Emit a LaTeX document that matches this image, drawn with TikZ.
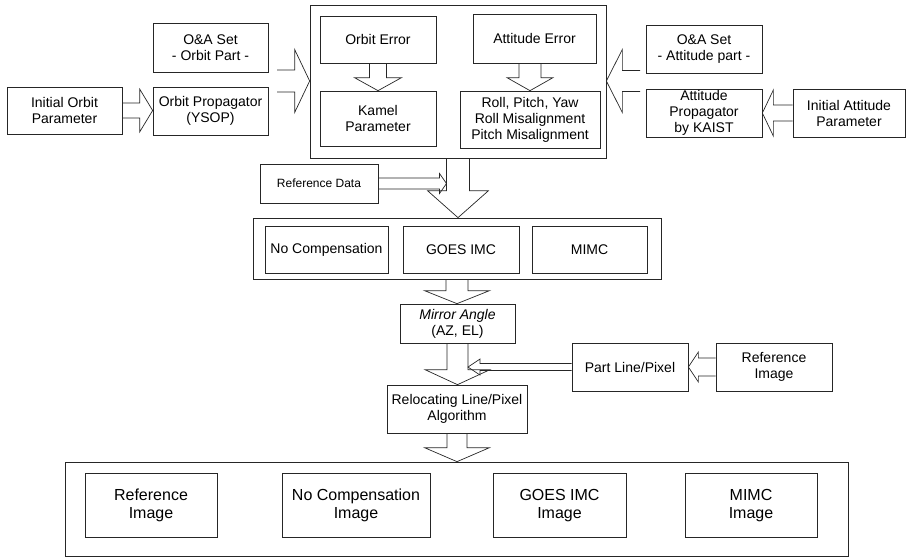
\documentclass[tikz,border=0pt]{standalone}
\usepackage{fontspec}
\setmainfont{Liberation Sans}
\usetikzlibrary{calc}

\tikzset{
  box/.style={draw=black!85, line width=0.7pt, align=center, inner sep=1pt,
              font=\fontsize{14}{16}\selectfont},
  frame/.style={draw=black!85, line width=0.7pt},
  barrow/.style={draw=black!85, line width=0.7pt, line join=miter}
}

% hollow block arrows: #1 start, #2 tip, #3 shaft half width, #4 head half width, #5 head length
\newcommand{\blockdown}[5]{%
  \draw[barrow] let \p1=(#1), \p2=(#2) in
    (\x1-#3pt,\y1) -- (\x1-#3pt,\y2+#5pt) -- (\x1-#4pt,\y2+#5pt) -- (\x1,\y2)
    -- (\x1+#4pt,\y2+#5pt) -- (\x1+#3pt,\y2+#5pt) -- (\x1+#3pt,\y1);}
\newcommand{\blockright}[5]{%
  \draw[barrow] let \p1=(#1), \p2=(#2) in
    (\x1,\y1+#3pt) -- (\x2-#5pt,\y1+#3pt) -- (\x2-#5pt,\y1+#4pt) -- (\x2,\y1)
    -- (\x2-#5pt,\y1-#4pt) -- (\x2-#5pt,\y1-#3pt) -- (\x1,\y1-#3pt);}
\newcommand{\blockleft}[5]{%
  \draw[barrow] let \p1=(#1), \p2=(#2) in
    (\x1,\y1+#3pt) -- (\x2+#5pt,\y1+#3pt) -- (\x2+#5pt,\y1+#4pt) -- (\x2,\y1)
    -- (\x2+#5pt,\y1-#4pt) -- (\x2+#5pt,\y1-#3pt) -- (\x1,\y1-#3pt);}

\begin{document}
\begin{tikzpicture}[x=1pt, y=-1pt]
  \useasboundingbox (0,0) rectangle (906,558);

  % group frames
  \node[frame, minimum width=296pt, minimum height=153pt] (topbox) at (458,81.5) {};
  \node[frame, minimum width=408pt, minimum height=61pt] (modebox) at (457,248.5) {};
  \node[frame, minimum width=783pt, minimum height=94pt] (outbox) at (456.5,509) {};

  % blocks
  \foreach \id/\cx/\cy/\bw/\bh/\txt in {
      oaorbit/210.5/47.5/115/49/{O\&A Set\\- Orbit Part -},
      orbinit/64.5/110.5/115/47/{Initial Orbit\\Parameter},
      orbprop/210.5/111/115/48/{Orbit Propagator\\(YSOP)},
      orberr/378/39.5/116/47/{Orbit Error},
      kamel/378/118.5/116/55/{Kamel\\Parameter},
      atterr/534.5/38.5/123/49/{Attitude Error},
      rpy/530/119.5/140/57/{Roll, Pitch, Yaw\\Roll Misalignment\\Pitch Misalignment},
      oaatt/704/49/116/48/{O\&A Set\\- Attitude part -},
      attprop/704/113/116/48/{Attitude\\Propagator\\by KAIST},
      attinit/849/113/112/48/{Initial Attitude\\Parameter},
      nocomp/326.5/249.5/123/47/{No Compensation},
      goes/461/249.5/116/47/{GOES IMC},
      mimc/589.5/249.5/115/47/{MIMC},
      mirror/457.5/323.5/115/39/{{\itshape Mirror Angle}\\(AZ, EL)},
      partline/630/367/116/48/{Part Line/Pixel},
      refimg/774/367/116/48/{Reference\\Image},
      reloc/457/409/140/48/{Relocating Line/Pixel\\Algorithm}%
  }{
    \node[box, minimum width=\bw pt, minimum height=\bh pt] (\id) at (\cx,\cy) {\txt};
  }
  \node[box, font=\fontsize{12}{14}\selectfont, minimum width=118pt,
        minimum height=39pt] (refdata) at (319,183.5) {Reference Data};

  % output images
  \foreach \id/\cx/\bw/\txt in {
      refout/151/132/{Reference\\Image},
      nocompout/356/148/{No Compensation\\Image},
      goesout/559.5/133/{GOES IMC\\Image},
      mimcout/751/132/{MIMC\\Image}%
  }{
    \node[box, font=\fontsize{16}{18}\selectfont, minimum width=\bw pt,
          minimum height=64pt] (\id) at (\cx,505.5) {\txt};
  }

  % arrows
  \coordinate (orbjoin) at (277,81);
  \coordinate (attjoin) at (640,81);
  \coordinate (refjoin) at (446.5,183.5);
  \coordinate (partjoin) at (468,366);
  \blockright{orbinit.east}{orbprop.west}{7.5}{21.5}{13}
  \blockleft{attinit.west}{attprop.east}{8}{23}{11}
  \blockright{orbjoin}{topbox.west}{11}{31.5}{15}
  \blockleft{attjoin}{topbox.east}{10.5}{31.5}{16}
  \blockdown{orberr.south}{kamel.north}{8.5}{23.5}{13}
  \blockdown{rpy.north |- atterr.south}{rpy.north}{11}{23}{13}
  \blockdown{topbox.south}{modebox.north}{11.5}{30.5}{27}
  \blockright{refdata.east}{refjoin}{5.5}{10}{7}
  \blockdown{modebox.south}{mirror.north}{11}{32.5}{13}
  \blockdown{mirror.south}{reloc.north}{10.5}{32.5}{15}
  \blockleft{partline.west}{partjoin}{3.5}{8}{12}
  \blockleft{refimg.west}{partline.east}{9}{15}{10}
  \blockdown{reloc.south}{outbox.north}{10}{32.5}{14}
\end{tikzpicture}
\end{document}
